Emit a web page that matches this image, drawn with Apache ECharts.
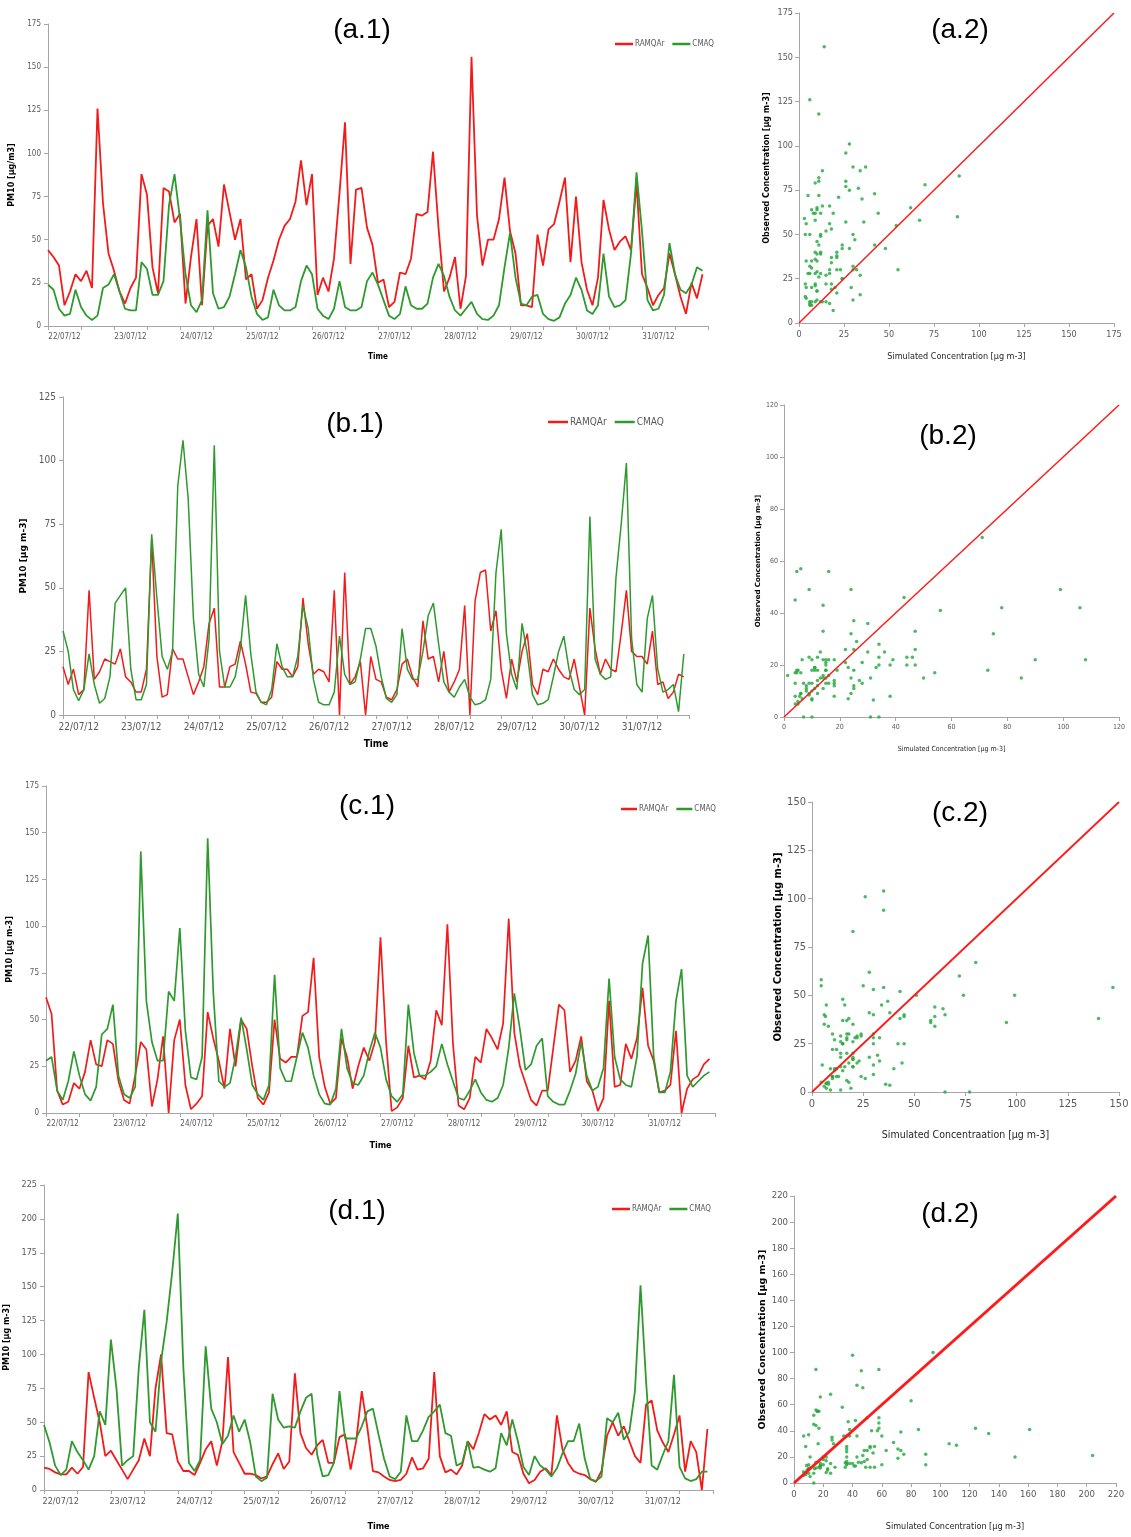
<!DOCTYPE html>
<html>
<head>
<meta charset="utf-8">
<title>PM10 - RAMQAr vs CMAQ</title>
<script src="https://cdn.jsdelivr.net/npm/echarts@6/dist/echarts.min.js"></script>
<style>
  html, body { margin: 0; padding: 0; background: #fff; }
  #main { width: 1131px; height: 1537px; }
</style>
</head>
<body>
<div id="main"></div>
<script>
// day labels of the time axis
const days = ['22/07/12', '23/07/12', '24/07/12', '25/07/12', '26/07/12',
              '27/07/12', '28/07/12', '29/07/12', '30/07/12', '31/07/12'];
const step = 2; // hours between two readings, starting 22/07 00h

// (a) observed (RAMQAr) and simulated (CMAQ)
const obsA = [44,40,35,12,20,30,26,32,22,126, 71,42,32,20,13,22,28,88,76,34, 19,80,78,60,65,13,40,62,12,58,
              62,46,82,66,50,62,27,30,10,15, 28,38,50,58,62,72,96,70,88,18, 28,20,39,77,118,36,79,80,57,47,
              25,27,11,14,31,30,39,65,64,66, 101,57,20,28,40,10,29,156,64,35, 50,50,62,86,55,42,12,12,11,53,
              35,56,59,72,86,37,75,37,21,12, 28,73,56,44,49,52,44,83,30,22, 12,18,22,42,30,17,7,25,16,30];
const simA = [24,21,10,6,7,21,11,6,3.5,6, 22,24,30,20,10,9,9,37,33,18, 18,26,70,88,62,30,12,8,15,67,
              19,10,11,17,30,44,34,17,7,3.5, 5,21,12,9,9,11,26,35,30,10, 6,4,10,26,11,9,9,11,26,31,
              24,15,6,4,7,23,12,10,10,13, 28,36,29,17,9,6,10,14,7,4, 3.5,6,12,34,54,28,13,12,17,18,
              7,4,3,5,13,18,28,21,9,7, 12,42,17,11,12,15,42,89,55,15, 9,10,18,48,30,21,19,24,34,32];

// (b)
const obsB = [19,12,18,8,10,49,14,17,22,21, 20,26,15,13,9,9,18,69,23,7, 8,26,22,22,15,8,13,19,36,42,
              11,11,19,20,29,20,9,8.5,5,5, 7,21,18,18,15,19,46,28,16,18, 17,13,49,0,56,12,15,21,0,23,
              14,13,7,6,10,20,22,15,11,37, 22,23,13,25,9,13,18,43,0,45, 56,57,33,41,18,6.5,22,13,25,32,
              12,8,18,17,22,18,15,14,22,11, 0,42,26,16,22,18,17,32,49,25, 23,23,20,33,12,13,6.5,9,16,15];
const simB = [33,25,10,5.6,10,24,12,4.6,6.5,15, 44,47,50,18,6,6,12,71,46,23, 18,25,90,108,85,38,16,11,30,106,
              25,11,11,15,26,47,24,9,5,4, 10,28,19,15,15,23,43,34,14,5, 4,4,9,31,16,12,13,22,34,34,
              27,15,6.5,5,8,34,18,14,14,25, 39,44,28,13,9,7,11,14,7,4, 4.6,6,14,56,73,32,16,10,36,24,
              8,4,4.6,6,15,25,31,18,10,8, 10,78,22,16,14,15,54,75,99,30, 12,9,38,47,18,9,10,12,1.3,24];

// (c)
const obsC = [62,53,12,4.5,6,16,13,22,39,26, 25,39,37,17,7,5,20,38,34,3.5, 18,41,0,39,50,15,2,5,9,54,
              40,28,13,45,25,50,45,25,8,4.5, 11,50,29,27,30,30,52,54,83,30, 14,5,8,40,30,13,25,35,28,38,
              94,38,1,3,8,36,19,20,18,28, 55,47,101,37,4,2,8,30,27,45, 40,34,48,104,43,25,16,7,4,12,
              12,35,58,55,22,28,41,17,12,1, 8,60,14,15,37,29,40,67,36,28, 11,12,15,44,0,13,18,20,26,29];
const simC = [28,30,12,7,17,33,20,10,6.6,14, 42,45,58,20,10,8,14,140,60,38, 28,28,65,60,99,44,19,18,30,147,
              65,17,14,16,30,51,34,15,10,7, 15,74,24,17,17,30,43,35,20,10, 5,4.5,13,45,24,16,15,20,33,43,
              35,18,9,6,10,58,32,20,20,22, 25,37,26,17,8,7,12,18,11,7, 6,8,15,35,64,45,23,26,36,40,
              9,6,4.5,4.5,12,21,38,20,12,14, 24,72,30,18,15,14,30,80,95,30, 11,11,22,60,77,20,14,17,20,22];

// (d)
const obsD = [16.5,15.5,13,11.5,11.5,16.5,12,17,87,68, 50,25,29,22,15,8,15,22,38,25, 75,100,42,41,21,14,14,11,20,30,
              36,18,36,98,28,20,12,12,11,8.5, 10,19,27,15.5,21,86,42,31,26,33, 37,20,20,39,41,15,36,73,46,14,
              13,10,7.4,6.6,7.4,12,24,15,16,23, 87,25,13,15,11.5,18,36,30,42,56, 52,55,48,58,28,26,12,5,7.4,13.5,
              16,11,55,30,20,14,12,11,8,6, 14,40,50,40,47,36,25,20,63,66, 44,35,28,41,55,13.5,36,28,0,45];
const simD = [48,35,18,11,15,36,28,22,15,25, 58,48,111,75,18,22,25,90,133,50, 43,95,124,161,204,90,20,14,22,106,
              60,50,34,40,55,43,52,35,10,6.5, 9,71,52,46,47,46,58,68,71,26, 10,11,20,73,38,38,38,47,58,60,
              41,23,10,8,13.5,55,36,36,44,54, 58,63,42,40,18,20,36,16.5,17,15, 13.5,16,42,33,52,36,17,11,25,18,
              15,10,16,27,36,36,49,23,8,6.6, 10,53,50,57,37,43,73,151,80,18, 15,26,36,85,17,8.6,6.6,8,13.5,13.5];

const narrow = "'Liberation Sans Narrow', 'DejaVu Sans Condensed', 'Liberation Sans', sans-serif";
const boldFont = "'DejaVu Sans', 'Liberation Sans', sans-serif";
const axisGray = '#a6a6a6';
const labelGray = '#595959';
const red = '#f31a1a';
const green = '#2e9a2e';

// time series panels
const tsPanels = [
  { tag: '(a.1)', tx: 362, ty: 30, obs: obsA, sim: simA, grid: { left: 48, top: 24, width: 660, height: 302 },
    yMax: 175, yName: 'PM10 [µg/m3]', font: 8, yFont: 8, yGap: 28, tGap: 27, tFont: 8, lw: 1.8,
    legend: { left: 610, top: 35, size: 8, w: 18 } },
  { tag: '(b.1)', tx: 355, ty: 424, obs: obsB, sim: simB, grid: { left: 63, top: 397, width: 626, height: 318 },
    yMax: 125, yName: 'PM10 [µg m-3]', font: 10, yFont: 9, yGap: 31, tGap: 24, tFont: 10, lw: 1.5,
    legend: { left: 543, top: 412, size: 10, w: 20 } },
  { tag: '(c.1)', tx: 367, ty: 806, obs: obsC, sim: simC, grid: { left: 46, top: 786, width: 669, height: 327 },
    yMax: 175, yName: 'PM10 [µg m-3]', font: 8, yFont: 8, yGap: 26, tGap: 28, tFont: 9, lw: 1.7,
    legend: { left: 616, top: 800, size: 8, w: 16 } },
  { tag: '(d.1)', tx: 357, ty: 1211, obs: obsD, sim: simD, grid: { left: 44, top: 1185, width: 669, height: 305 },
    yMax: 225, yName: 'PM10 [µg m-3]', font: 9, yFont: 8, yGap: 23, tGap: 32, tFont: 9, lw: 1.8,
    legend: { left: 607, top: 1200, size: 8, w: 18 } }
];

// scatter panels, x = simulated, y = observed
const scPanels = [
  { tag: '(a.2)', tx: 960, ty: 30, obs: obsA, sim: simA, grid: { left: 799, top: 13, width: 315, height: 310 },
    max: 175, interval: 25, font: 9, xName: 'Simulated Concentration [µg m-3]', xFont: 9, xGap: 29,
    yFont: 8, yGap: 28, lw: 1.5 },
  { tag: '(b.2)', tx: 948, ty: 436, obs: obsB, sim: simB, grid: { left: 784, top: 405, width: 335, height: 312 },
    max: 120, interval: 20, font: 7, xName: 'Simulated Concentration [µg m-3]', xFont: 7, xGap: 29,
    yFont: 7, yGap: 16, lw: 1.5 },
  { tag: '(c.2)', tx: 960, ty: 813, obs: obsC, sim: simC, grid: { left: 812, top: 802, width: 307, height: 290 },
    max: 150, interval: 25, font: 11, xName: 'Simulated Concentraation [µg m-3]', xFont: 10.5, xGap: 38,
    yFont: 10, yGap: 27, lw: 1.8 },
  { tag: '(d.2)', tx: 950, ty: 1214, obs: obsD, sim: simD, grid: { left: 794, top: 1196, width: 322, height: 287 },
    max: 220, interval: 20, font: 9.5, xName: 'Simulated Concentration [µg m-3]', xFont: 9, xGap: 39,
    yFont: 9.5, yGap: 20, lw: 3 }
];

window.onload = function() {
  let grids = [], xAxes = [], yAxes = [], series = [], legends = [], texts = [];

  const axisLine = { show: true, lineStyle: { color: axisGray, width: 1 } };
  const axisTick = { show: true, length: 4, lineStyle: { color: axisGray } };

  tsPanels.forEach(p => {
    let g = grids.length;
    grids.push(Object.assign({ containLabel: false, outerBoundsMode: 'none' }, p.grid));

    // ticks every 12 h
    let xi = xAxes.length;
    xAxes.push({
      gridIndex: g, type: 'value', position: 'bottom', min: 0, max: 240, interval: 12,
      axisLine: axisLine, axisTick: axisTick, axisLabel: { show: false }, splitLine: { show: false }
    });
    // day labels in the middle of the first half day
    xAxes.push({
      gridIndex: g, type: 'value', position: 'bottom', min: 0, max: 240, interval: 6,
      axisLine: { show: false }, axisTick: { show: false }, splitLine: { show: false },
      axisLabel: {
        color: labelGray, fontFamily: narrow, fontSize: p.font, margin: 7,
        formatter: v => (v % 24 === 6 ? days[(v - 6) / 24] : '')
      },
      name: 'Time', nameLocation: 'middle', nameGap: p.tGap,
      nameTextStyle: { color: '#000', fontFamily: narrow, fontWeight: 'bold', fontSize: p.tFont }
    });

    let yi = yAxes.length;
    yAxes.push({
      gridIndex: g, type: 'value', min: 0, max: p.yMax, interval: 25,
      axisLine: axisLine, axisTick: axisTick, splitLine: { show: false },
      axisLabel: { color: labelGray, fontFamily: narrow, fontSize: p.font, margin: 7 },
      name: p.yName, nameLocation: 'middle', nameRotate: 90, nameGap: p.yGap,
      nameTextStyle: { color: '#000', fontFamily: boldFont, fontWeight: 'bold', fontSize: p.yFont }
    });

    series.push({
      name: 'RAMQAr', type: 'line', xAxisIndex: xi, yAxisIndex: yi, showSymbol: false,
      data: p.obs.map((v, i) => [i * step, v]),
      lineStyle: { color: red, width: p.lw }, itemStyle: { color: red }
    });
    series.push({
      name: 'CMAQ', type: 'line', xAxisIndex: xi, yAxisIndex: yi, showSymbol: false,
      data: p.sim.map((v, i) => [i * step, v]),
      lineStyle: { color: green, width: p.lw }, itemStyle: { color: green }
    });

    legends.push({
      data: ['RAMQAr', 'CMAQ'], left: p.legend.left, top: p.legend.top, orient: 'horizontal',
      icon: 'rect', itemWidth: p.legend.w, itemHeight: 2.5, itemGap: 8,
      textStyle: { color: labelGray, fontFamily: narrow, fontSize: p.legend.size, padding: [0, 0, 0, -3] }
    });

    texts.push({ text: p.tag, x: p.tx, y: p.ty });
  });

  scPanels.forEach(p => {
    let g = grids.length;
    grids.push(Object.assign({ containLabel: false, outerBoundsMode: 'none' }, p.grid));

    let xi = xAxes.length;
    xAxes.push({
      gridIndex: g, type: 'value', position: 'bottom', min: 0, max: p.max, interval: p.interval,
      axisLine: axisLine, axisTick: axisTick, splitLine: { show: false },
      axisLabel: { color: labelGray, fontFamily: narrow, fontSize: p.font, margin: 7 },
      name: p.xName, nameLocation: 'middle', nameGap: p.xGap,
      nameTextStyle: { color: '#262626', fontFamily: narrow, fontSize: p.xFont }
    });
    let yi = yAxes.length;
    yAxes.push({
      gridIndex: g, type: 'value', min: 0, max: p.max, interval: p.interval,
      axisLine: axisLine, axisTick: axisTick, splitLine: { show: false },
      axisLabel: { color: labelGray, fontFamily: narrow, fontSize: p.font, margin: 6 },
      name: 'Observed Concentration [µg m-3]', nameLocation: 'middle', nameRotate: 90, nameGap: p.yGap,
      nameTextStyle: { color: '#000', fontFamily: boldFont, fontWeight: 'bold', fontSize: p.yFont }
    });

    series.push({
      type: 'scatter', xAxisIndex: xi, yAxisIndex: yi, symbolSize: 3.5,
      data: p.obs.map((v, i) => [p.sim[i], v]),
      itemStyle: { color: '#22a83c' }
    });
    // 1:1 line
    series.push({
      type: 'line', xAxisIndex: xi, yAxisIndex: yi, showSymbol: false,
      data: [[0, 0], [p.max, p.max]],
      lineStyle: { color: '#ff1a1a', width: p.lw }
    });

    texts.push({ text: p.tag, x: p.tx, y: p.ty });
  });

  let chart = echarts.init(document.getElementById('main'), null, { renderer: 'canvas' });
  let option = {
    backgroundColor: '#fff',
    animation: false,
    grid: grids,
    xAxis: xAxes,
    yAxis: yAxes,
    legend: legends,
    series: series,
    graphic: texts.map(t => ({
      type: 'text', x: t.x, y: t.y, z: 10,
      style: {
        text: t.text, fill: '#000', fontSize: 28, fontFamily: "'Liberation Sans', Arial, sans-serif",
        textAlign: 'center', textVerticalAlign: 'middle'
      }
    }))
  };
  chart.setOption(option);
}
</script>
</body>
</html>
